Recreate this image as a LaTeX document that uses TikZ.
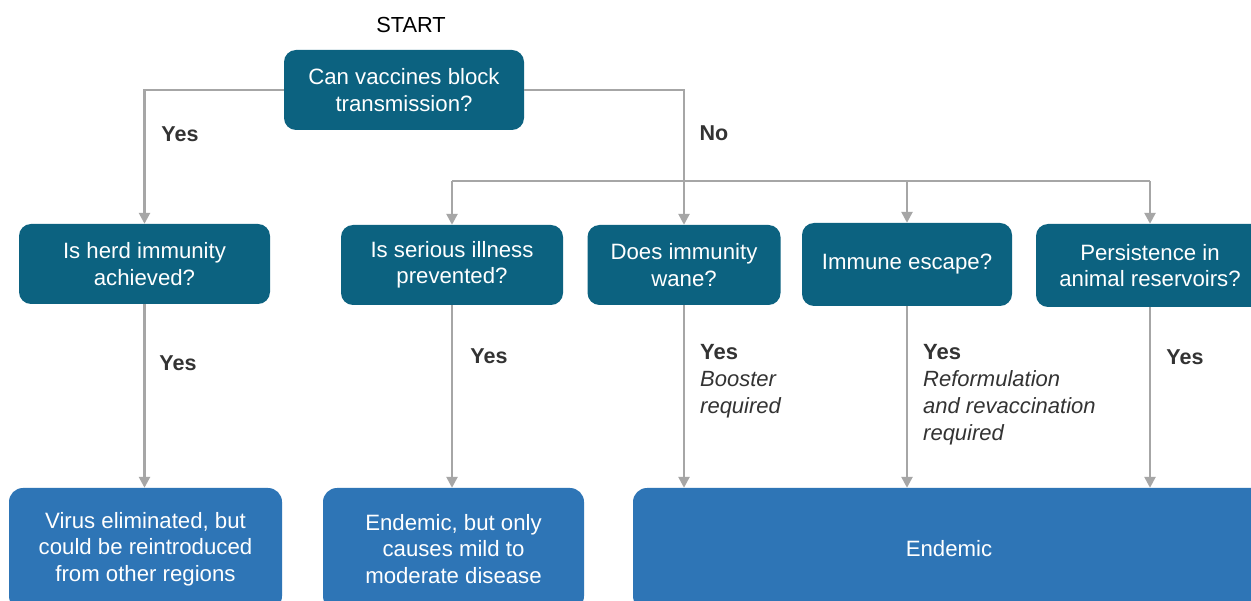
\documentclass[tikz,border=0pt]{standalone}
\usepackage{fontspec}
\setmainfont{Liberation Sans}
\usetikzlibrary{arrows.meta}
\definecolor{qteal}{RGB}{12,98,128}
\definecolor{oblue}{RGB}{46,117,182}
\definecolor{lgray}{RGB}{166,166,166}
\definecolor{ltext}{RGB}{51,51,51}
\tikzset{
  qbox/.style={draw=none, fill=qteal, rounded corners=12pt, text=white, align=center,
    font=\fontsize{22.2}{26.5}\selectfont, inner sep=0pt},
  obox/.style={draw=none, fill=oblue, rounded corners=14pt, text=white, align=center,
    font=\fontsize{22.2}{26.5}\selectfont, inner sep=0pt},
  conn/.style={draw=lgray, line width=2.5pt},
  arr/.style={conn, -{Triangle[width=11pt,length=11pt]}},
  lbl/.style={text=ltext, font=\fontsize{22}{27}\selectfont, inner sep=0pt, align=left},
  ylbl/.style={text=ltext, font=\fontsize{21.5}{27}\bfseries, inner sep=0pt},
}
\begin{document}
\begin{tikzpicture}[x=1pt,y=-1pt]
\useasboundingbox (0,0) rectangle (1251,601);
\clip (0,0) rectangle (1251,601);
\fill[white] (0,0) rectangle (1251,601);

\node[text=black, font=\fontsize{21.8}{26}\selectfont, inner sep=0pt] (start) at (411,25) {START};

\node[qbox, minimum width=240pt, minimum height=80pt] (top) at (404,90) {Can vaccines block\\transmission?};

\node[qbox, minimum width=251pt, minimum height=80pt] (herd) at (144.5,264) {Is herd immunity\\achieved?};
\node[qbox, minimum width=222pt, minimum height=80pt] (serious) at (452,265) {Is serious illness\\prevented?};
\node[qbox, minimum width=193pt, minimum height=80pt] (wane) at (684,265) {Does immunity\\wane?};
\node[qbox, minimum width=210pt, minimum height=83pt] (escape) at (907,264.5) {Immune escape?};
\node[qbox, minimum width=228pt, minimum height=83pt] (persist) at (1150,265.5) {Persistence in\\animal reservoirs?};

\node[obox, minimum width=273pt, minimum height=122pt] (virus) at (145.5,549) {Virus eliminated, but\\could be reintroduced\\from other regions};
\node[obox, minimum width=261pt, minimum height=122pt] (mild) at (453.5,549) {Endemic, but only\\causes mild to\\moderate disease};
\node[obox, minimum width=632pt, minimum height=122pt] (endemic) at (949,549) {Endemic};

\coordinate (bus) at (452,181);

% top connectors
\draw[arr] (top.west) -| (herd.north);
\draw[arr] (top.east) -| (wane.north);
\draw[arr] (serious.north |- bus) -- (serious.north);
\draw[conn] (serious.north |- bus) -- (persist.north |- bus);
\draw[arr] (persist.north |- bus) -- (persist.north);
\draw[arr] (escape.north |- bus) -- (escape.north);

% vertical connectors
\draw[arr] (herd.south) -- (herd.south |- virus.north);
\draw[arr] (serious.south) -- (serious.south |- mild.north);
\draw[arr] (wane.south) -- (wane.south |- endemic.north);
\draw[arr] (escape.south) -- (escape.south |- endemic.north);
\draw[arr] (persist.south) -- (persist.south |- endemic.north);

% labels
\node[ylbl] (yes1) at (180,134) {Yes};
\node[ylbl] (no1) at (714,133) {No};
\node[ylbl] (yes2) at (178,363) {Yes};
\node[ylbl] (yes3) at (489,356) {Yes};
\node[ylbl] (yes6) at (1185,357) {Yes};
\node[lbl, anchor=north west] (yes4) at (700,344) {\textbf{Yes}\\\textit{Booster}\\\textit{required}};
\node[lbl, anchor=north west] (yes5) at (923,344) {\textbf{Yes}\\\textit{Reformulation}\\\textit{and revaccination}\\\textit{required}};
\end{tikzpicture}
\end{document}
